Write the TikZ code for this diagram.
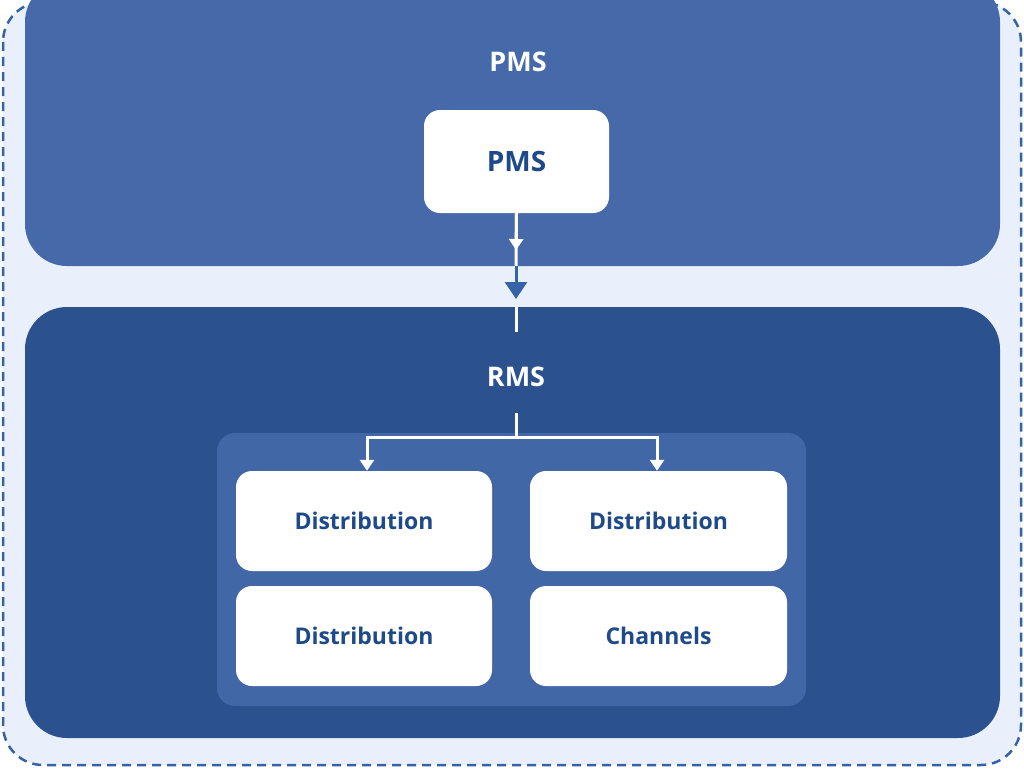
\documentclass[tikz,border=0pt]{standalone}
\usepackage{fontspec}
\setmainfont{Open Sans}
\usetikzlibrary{arrows.meta}
\definecolor{bgc}{HTML}{E9F0FC}
\definecolor{dashc}{HTML}{3563A6}
\definecolor{pmsc}{HTML}{4569A9}
\definecolor{rmsc}{HTML}{2C518F}
\definecolor{innerc}{HTML}{4267A7}
\definecolor{txtc}{HTML}{1E4A8A}
\tikzset{
  panel/.style={rounded corners=42pt},
  card/.style={fill=white, rounded corners=16pt, draw=none, text=txtc, font=\bfseries\fontsize{23}{27}\selectfont, inner sep=0pt},
  bigcard/.style={card, font=\bfseries\fontsize{28}{32}\selectfont},
  title/.style={text=white, font=\bfseries\fontsize{27}{31}\selectfont},
  wline/.style={draw=white, line width=3pt},
  wtip/.style={-{Triangle[width=14pt,length=11pt]}},
}
\begin{document}
\begin{tikzpicture}[x=1pt,y=-1pt]
\useasboundingbox (0,0) rectangle (1024,768);
\fill[white] (0,0) rectangle (1024,768);
% outer dashed frame
\draw[fill=bgc, draw=dashc, line width=2.5pt, dash pattern=on 9pt off 6pt, rounded corners=40pt] (3,2) rectangle (1021,765);
% panels
\fill[pmsc, panel] (25,-20) rectangle (1000,266);
\fill[rmsc, panel] (25,307) rectangle (1000,738);
\fill[innerc, rounded corners=18pt] (217,433) rectangle (806,706);
% titles
\node[title] (pmst) at (518,62) {PMS};
\node[title] (rmst) at (516,377) {RMS};
% nodes
\node[bigcard, minimum width=185pt, minimum height=103pt] (pms) at (516.5,161.5) {PMS};
\node[card, minimum width=256pt, minimum height=100pt] (d1) at (364,521) {Distribution};
\node[card, minimum width=257pt, minimum height=100pt] (d2) at (658.5,521) {Distribution};
\node[card, minimum width=256pt, minimum height=100pt] (d3) at (364,636) {Distribution};
\node[card, minimum width=257pt, minimum height=100pt] (ch) at (658.5,636) {Channels};
% connectors
\coordinate (gtop) at (516,266);
\coordinate (gbot) at (516,299);
\coordinate (rtop) at (516,307);
\coordinate (rend) at (516,332);
\coordinate (mid) at (516,250);
\draw[wline] (pms.south) -- (gtop);
\draw[white, line width=3pt, -{Triangle[width=14pt,length=11pt]}] (pms.south) -- (mid);
\draw[dashc, line width=3pt, -{Triangle[width=22pt,length=17pt]}] (gtop) -- (gbot);
\draw[wline] (rtop) -- (rend);
% branch
\coordinate (bs) at (516,413);
\coordinate (bj) at (516,437);
\draw[wline] (bs) -- (bj);
\draw[white, line width=3pt, wtip] (bj) -| (d1.north west -| 367,468);
\draw[white, line width=3pt, wtip] (bj) -| (d2.north east -| 657,468);
\end{tikzpicture}
\end{document}
